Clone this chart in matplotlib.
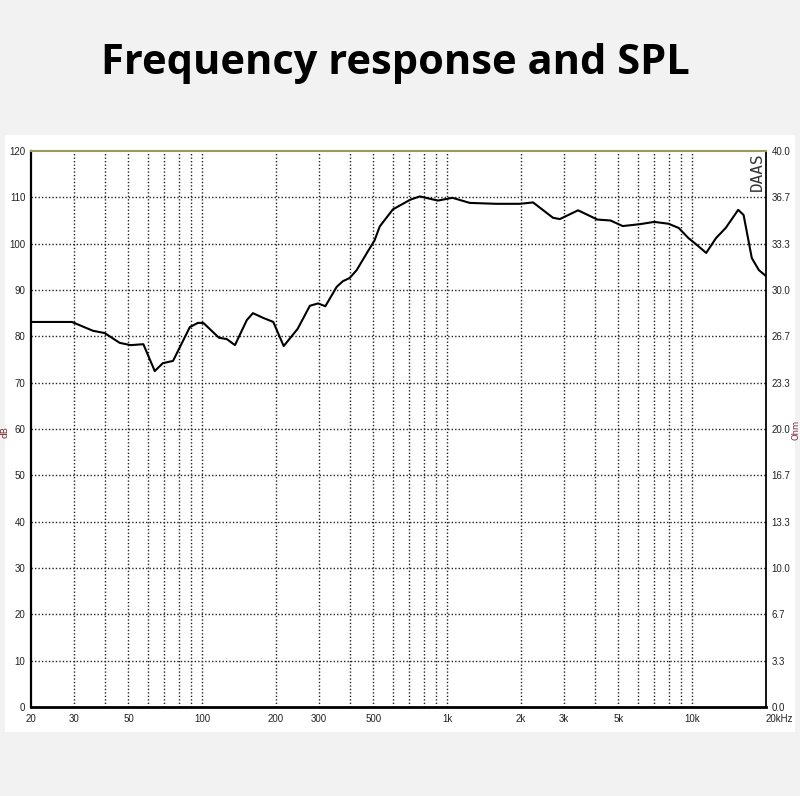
import numpy as np
import matplotlib
matplotlib.use('Agg')
import matplotlib.pyplot as plt
from matplotlib.patches import Rectangle

# Curve (frequency in Hz, level in dB)
freq = [20, 29.4, 35.8, 40, 46, 51, 57.5, 64, 69, 76, 89, 96, 101, 117, 126,
        136, 152, 161, 177, 195, 215, 245, 275, 297, 318, 354, 375, 400, 427,
        470, 505, 530, 600, 707, 773, 915, 1050, 1235, 1590, 1980, 2240, 2700,
        2880, 3420, 4100, 4640, 5200, 6100, 7000, 8000, 8800, 9650, 10300,
        11400, 12500, 13700, 15400, 16200, 17500, 18700, 20000]
spl = [83.1, 83.1, 81.2, 80.7, 78.6, 78.1, 78.3, 72.5, 74.2, 74.7, 82.0, 82.9,
       82.9, 79.7, 79.4, 78.1, 83.5, 85.0, 84.0, 83.1, 77.9, 81.6, 86.6, 87.1,
       86.5, 90.7, 91.9, 92.6, 94.3, 98.0, 100.7, 103.7, 107.4, 109.5, 110.2,
       109.3, 109.9, 108.8, 108.6, 108.6, 108.9, 105.6, 105.3, 107.2, 105.2,
       105.0, 103.8, 104.2, 104.7, 104.3, 103.4, 101.2, 100.0, 98.0, 101.2,
       103.4, 107.3, 106.2, 96.9, 94.3, 93.0]

x_tick_vals = [20, 30, 50, 100, 200, 300, 500, 1000, 2000, 3000, 5000, 10000, 20000]
x_tick_labels = ['20', '30', '50', '100', '200', '300', '500', '1k', '2k', '3k', '5k', '10k', '20kHz']
y_left_ticks = list(range(0, 121, 10))
y_right_labels = ['0.0', '3.3', '6.7', '10.0', '13.3', '16.7', '20.0', '23.3',
                  '26.7', '30.0', '33.3', '36.7', '40.0']

W, H = 800, 796
fig = plt.figure(figsize=(W / 100, H / 100), dpi=100)
fig.patch.set_facecolor('#f2f2f2')

# white panel behind the chart
fig.patches.append(Rectangle((5 / W, 1 - 732 / H), 790 / W, 597 / H,
                             transform=fig.transFigure, facecolor='white',
                             edgecolor='none', zorder=-10))

fig.text(395 / W, 1 - 63 / H, 'Frequency response and SPL', ha='center',
         va='center', fontsize=30, fontweight='bold', family='Open Sans')

ax = fig.add_axes([31 / W, 1 - 707 / H, 735 / W, 556 / H])
ax.set_facecolor('white')
ax.set_xscale('log')
ax.set_xlim(20, 20000)
ax.set_ylim(0, 120)

# dotted grid: every 10 dB, every log minor step
grid_style = dict(color='#222222', linestyle=(0, (1, 1.5)), linewidth=1.0, zorder=1)
for v in y_left_ticks[1:-1]:
    ax.axhline(v, **grid_style)
for dec in [10, 100, 1000, 10000]:
    for m in range(1, 10):
        f = dec * m
        if 20 < f < 20000:
            ax.axvline(f, **grid_style)

ax.plot(freq, spl, color='black', linewidth=1.5, zorder=3)

tick_font = 'Liberation Sans'
ax.set_xticks(x_tick_vals)
ax.set_xticklabels(x_tick_labels, family=tick_font)
ax.xaxis.set_minor_locator(matplotlib.ticker.NullLocator())
ax.set_yticks(y_left_ticks)
ax.set_yticklabels([str(v) for v in y_left_ticks], family=tick_font)
ax.tick_params(length=0, labelsize=7, colors='#222222')
ax.tick_params(axis='x', pad=5)
ax.tick_params(axis='y', pad=4)
for lbl in ax.get_xticklabels():
    if lbl.get_text() == '20kHz':
        lbl.set_horizontalalignment('left')

ax.spines['top'].set_color('#9a9a5a')
ax.spines['top'].set_linewidth(1.5)
ax.spines['bottom'].set_color('black')
ax.spines['bottom'].set_linewidth(2)
ax.spines['right'].set_color('black')
ax.spines['right'].set_linewidth(1.3)
ax.spines['left'].set_color('black')
ax.spines['left'].set_linewidth(1.6)
ax.spines['left'].set_linestyle((0, (1, 1)))

ax2 = ax.twinx()
ax2.set_ylim(0, 40)
ax2.set_yticks(np.linspace(0, 40, 13))
ax2.set_yticklabels(y_right_labels, family=tick_font)
ax2.tick_params(length=0, labelsize=7, colors='#222222', pad=4)
for s in ax2.spines.values():
    s.set_visible(False)

ax.text(0.988, 0.998, 'DAAS', transform=ax.transAxes, rotation=90, ha='center',
        va='top', fontsize=11.5, family='DejaVu Sans Mono', color='#333333')

# axis captions at the picture edges
fig.text(5 / W, 1 - 432 / H, 'dB', rotation=90, ha='center', va='center',
         fontsize=6.5, color='#7a2a2a')
fig.text(796 / W, 1 - 430 / H, 'Ohm', rotation=90, ha='center', va='center',
         fontsize=6, color='#7a2a4a')

fig.savefig('out.png', dpi=100, facecolor=fig.get_facecolor())
